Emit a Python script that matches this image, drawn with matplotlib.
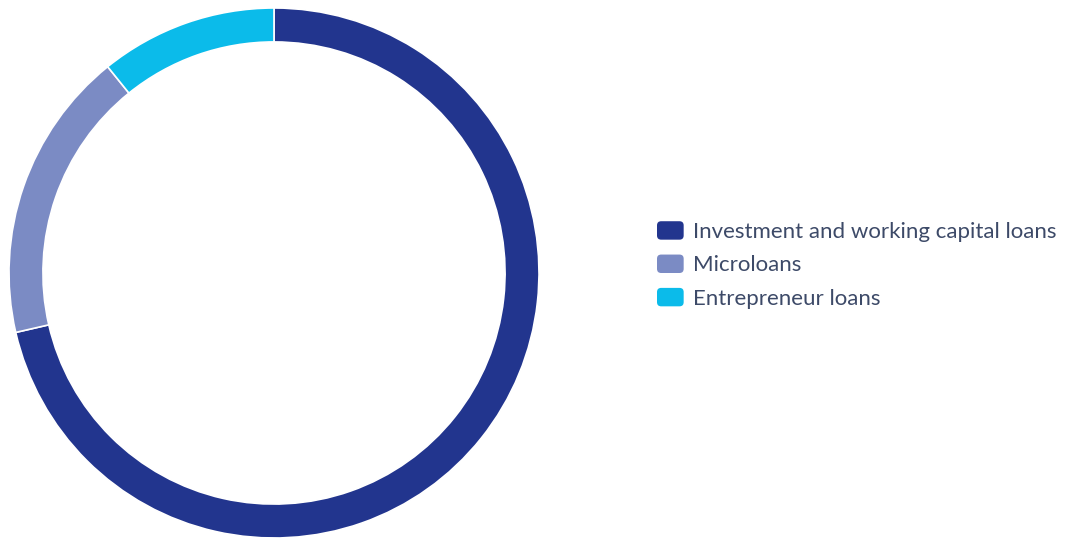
import matplotlib
matplotlib.use("Agg")
import matplotlib.pyplot as plt
from matplotlib.patches import FancyBboxPatch
from matplotlib.legend_handler import HandlerPatch

categories = ["Investment and working capital loans", "Microloans", "Entrepreneur loans"]
shares = [71.4, 17.8, 10.8]
colors = ["#22358e", "#7b8bc4", "#0bbbea"]

W, H = 1074, 538
fig = plt.figure(figsize=(W / 100, H / 100), dpi=100)

cx, cy, r = 274, 273, 265
ax = fig.add_axes([(cx - r) / W, (H - cy - r) / H, 2 * r / W, 2 * r / H])
wedges, _ = ax.pie(
    shares,
    colors=colors,
    startangle=90,
    counterclock=False,
    radius=1.0,
    wedgeprops=dict(width=0.128, edgecolor="white", linewidth=1.2),
)
ax.set_aspect("equal")
ax.set_xlim(-1, 1)
ax.set_ylim(-1, 1)
ax.axis("off")


class RoundedHandler(HandlerPatch):
    def create_artists(self, legend, orig_handle, xdescent, ydescent,
                       width, height, fontsize, trans):
        p = FancyBboxPatch((-xdescent, -ydescent), width, height,
                           boxstyle="round,pad=0,rounding_size=3",
                           facecolor=orig_handle.get_facecolor(),
                           edgecolor="none", transform=trans)
        return [p]


handles = [plt.Rectangle((0, 0), 1, 1, facecolor=c) for c in colors]
leg = fig.legend(
    handles, categories,
    loc="center left",
    bbox_to_anchor=(657 / W, 1 - 265 / H),
    frameon=False,
    prop=dict(family="Lato", size=16),
    labelcolor="#3d4a68",
    handlelength=1.2,
    handleheight=0.9,
    handletextpad=0.4,
    labelspacing=0.56,
    borderpad=0,
    borderaxespad=0,
    handler_map={plt.Rectangle: RoundedHandler()},
)

fig.savefig("out.png", dpi=100, facecolor="white")
